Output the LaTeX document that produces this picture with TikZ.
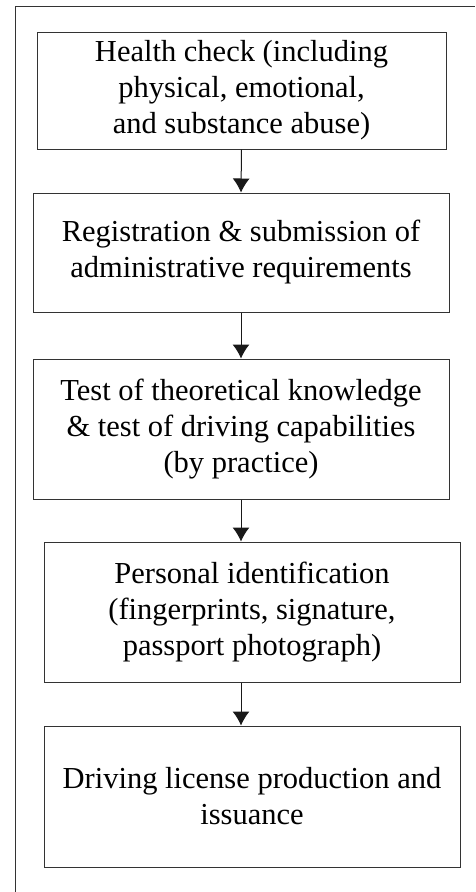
\documentclass[tikz,border=0pt]{standalone}
\usepackage{fontspec}
\setmainfont{Liberation Serif}
\usepackage{tikz}
\usetikzlibrary{arrows.meta,positioning}

\tikzset{
	passo/.style={draw=black!80, line width=1pt, align=center, inner sep=0pt,
		font=\fontsize{30.5}{36}\selectfont},
	freccia/.style={draw=black!90, line width=1pt, -{Latex[length=14pt,width=17pt]}}
}

\begin{document}
\begin{tikzpicture}[x=1pt,y=-1pt]
		\useasboundingbox (0,0) rectangle (475,892);
		% Cornice
		\draw [black!80, line width=1pt] (15,892) -- (15,6) -- (475,6);
		
		% Passi
		\node [passo, minimum width=409pt, minimum height=117pt] (salute) at (241.5,90.5)
			{Health check (including\\ physical, emotional,\\ and substance abuse)};
		\node [passo, minimum width=416pt, minimum height=119pt] (registrazione) at (241,252.5)
			{Registration \& submission of\\ administrative requirements};
		\node [passo, minimum width=416pt, minimum height=140pt] (esame) at (241,429)
			{Test of theoretical knowledge\\ \& test of driving capabilities\\ (by practice)};
		\node [passo, minimum width=416pt, minimum height=140pt] (identita) at (252,612)
			{Personal identification\\ (fingerprints, signature,\\ passport photograph)};
		\node [passo, minimum width=416pt, minimum height=141pt] (patente) at (252,796.5)
			{Driving license production and\\ issuance};
		
		% Frecce
		\draw [freccia] (salute.south) -- (registrazione.north);
		\draw [freccia] (registrazione.south) -- (esame.north);
		\draw [freccia] (esame.south) -- (esame.south |- identita.north);
		\draw [freccia] (esame.south |- identita.south) -- (esame.south |- patente.north);
	\end{tikzpicture}
\end{document}
